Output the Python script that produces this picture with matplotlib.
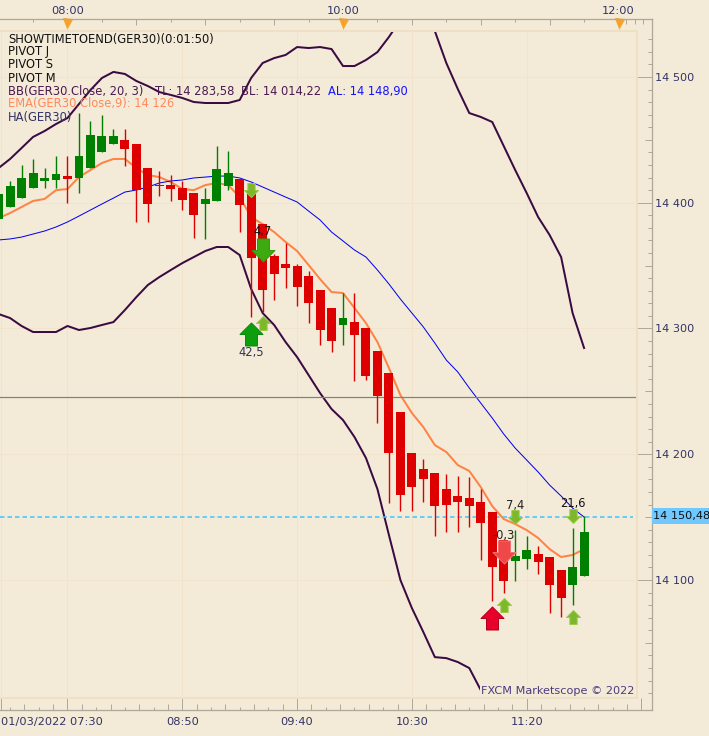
import matplotlib
matplotlib.use("Agg")
import matplotlib.pyplot as plt
import numpy as np
from matplotlib.path import Path

W, H = 709, 736
BG = "#F3EAD7"; GRID = "#F1E3CC"; BORDER = "#EFDFC4"; RULER = "#B0A898"; INK = "#333366"
GREEN = "#008000"; RED = "#DE0000"; PLUM = "#3A0A42"

# Candles, index 0 is the 08:00 bar, one bar is five minutes
first_bar = -6
opens = [14387,14397,14404,14412,14417,14418,14421,14420,14428,14440,14447,14450,14447,14428,14414,14414,14412,14408,14399,14401,14413,14419,14409,14383,14358,14351,14350,14342,14331,14316,14303,14305,14300,14282,14265,14234,14201,14188,14185,14172,14167,14165,14162,14154,14132,14115,14117,14121,14118,14108,14096,14103]
highs = [14407,14417,14430,14435,14428,14437,14437,14471,14465,14470,14459,14459,14447,14428,14425,14422,14417,14408,14412,14445,14441,14419,14409,14383,14359,14368,14351,14346,14331,14316,14328,14328,14300,14282,14265,14234,14201,14196,14185,14184,14183,14182,14172,14154,14133,14140,14135,14127,14118,14108,14141,14151]
lows = [14386,14397,14404,14412,14412,14412,14400,14408,14428,14440,14447,14429,14385,14385,14405,14401,14394,14372,14371,14401,14410,14377,14309,14313,14323,14332,14318,14304,14287,14281,14287,14258,14259,14225,14161,14155,14155,14162,14135,14138,14138,14142,14116,14083,14090,14099,14109,14105,14074,14071,14080,14103]
closes = [14407,14413,14420,14424,14420,14423,14419,14437,14454,14453,14453,14443,14410,14399,14413,14411,14402,14390,14403,14427,14424,14398,14356,14331,14343,14348,14333,14320,14299,14290,14308,14295,14262,14246,14201,14168,14174,14180,14159,14160,14162,14159,14145,14110,14099,14119,14124,14114,14096,14086,14110,14138]

ema_values = [14387.8,14391.8,14396.6,14401.4,14403,14410,14410.9,14420.4,14426,14431.6,14434.8,14434.8,14427.6,14422,14420.4,14416.5,14410.9,14410,14414,14415.7,14414,14404.5,14388.6,14383,14376.7,14368.8,14361.6,14350.5,14339.3,14329,14328.2,14316.3,14304.3,14289.2,14268.6,14247.1,14232.8,14221.6,14207.3,14201.8,14191.4,14186.7,14173.9,14158.8,14148.5,14144.5,14139.7,14133.4,14124.6,14118.3,14119.9,14124.6]
bb_mid = [14370.4,14371.2,14372.7,14375.1,14377.5,14380.7,14384.7,14389.4,14394.2,14399,14403.7,14408.5,14410.1,14412.5,14415.7,14417.3,14418.1,14419.7,14420.4,14421.2,14421.2,14419.7,14416.5,14412.5,14408.5,14404.5,14400.6,14393.4,14386.3,14376.7,14369.6,14362.4,14356.8,14346.5,14335.4,14323.4,14312.3,14301.2,14288.4,14274.9,14265.4,14252.7,14240.7,14228.8,14216.1,14204.9,14195.4,14185.9,14175.5,14166.8,14157.2,14150.1]
bb_top = [14427.6,14434.8,14443.5,14452.3,14457,14462.6,14467.4,14478.5,14489.6,14499.2,14504,14502.4,14496.8,14492.8,14488,14485.7,14483.3,14480.1,14479.3,14479.3,14479.3,14481.7,14499.2,14511.1,14515,14517.5,14523.8,14523,14523.8,14522.2,14508.7,14508.7,14513.5,14519.8,14531.8,14545.3,14553.2,14546.9,14536.5,14511.1,14490.4,14471.3,14468.2,14464.2,14445.1,14426,14407.7,14388.6,14374.3,14356.8,14312.3,14284.5]
bb_low = [14311.5,14308.3,14302,14297.2,14297.2,14297.2,14302,14298.8,14300.4,14302.8,14305.1,14314.7,14325,14334.6,14340.9,14346.5,14352,14356.8,14361.6,14364.8,14364.8,14358.4,14331.4,14312.3,14302.8,14289.2,14277.3,14263,14248.7,14236,14227.2,14213.7,14197,14172.3,14135.8,14100,14077.7,14058.6,14038.7,14037.9,14034.8,14030,14012.5,13991.8]

pivot_level = 14245.3
last_price = 14150.48

# Signals: bar, price, direction, size, fill, edge
sig_bars = [16,17,16,17,39,44,37,38,38,44]
sig_prices = [14410.1,14362.8,14295.6,14304.3,14150.1,14150.9,14069.8,14122.2,14080.1,14070.6]
sig_dirs = ["down","down","up","up","down","down","up","down","up","up"]
sig_sizes = [14,23,23,14,14,14,23,23,14,14]
sig_fills = ["#7DB82C","#3DAA10","#0C9E0C","#7DB82C","#7DB82C","#7DB82C","#E8002A","#F04848","#7DB82C","#7DB82C"]
sig_edges = ["#9CCB4A","#2E9C0C","#0A8A0A","#9CCB4A","#9CCB4A","#9CCB4A","#B0001E","#F47070","#9CCB4A","#9CCB4A"]

note_bars = [17,16,39,44,38]
note_prices = [14377.5,14281.3,14159.6,14161.2,14135.8]
note_texts = ["4,7","42,5","7,4","21,6","-0,3"]
note_colors = ["#111111","#333355","#222222","#111111","#222222"]

y_ticks = [14100,14200,14300,14400,14500]
y_labels = ["14 100","14 200","14 300","14 400","14 500"]
x_ticks = [-5.82,0,10,20,30,40]
x_labels = ["01/03/2022 07:30","","08:50","09:40","10:30","11:20"]
top_ticks = [0,24,48]
top_labels = ["08:00","10:00","12:00"]

fig = plt.figure(figsize=(W/72, H/72), dpi=72, facecolor=BG)
plt.rcParams["font.family"] = "DejaVu Sans"
L, R, T, B = 0, 637, 31, 698
ax = fig.add_axes([L/W, 1-B/H, (R-L)/W, (B-T)/H], facecolor=BG)
ax.set_xlim(-5.88, 49.61)
ax.set_ylim(14006.2, 14536.55)

bars = np.arange(first_bar, first_bar+len(opens))
o, h, l, c = map(np.array, (opens, highs, lows, closes))
colors = [GREEN if cc >= oo else RED for oo, cc in zip(o, c)]

ax.set_axisbelow(True)
ax.grid(True, color=GRID, lw=1)

ax.plot(bars, ema_values, color="#FF8345", lw=2, zorder=2, solid_joinstyle="round")
ax.plot(bars, bb_mid, color="#0000F0", lw=1, zorder=2)
ax.plot(bars, bb_top, color=PLUM, lw=2, zorder=2)
ax.plot(bars[:len(bb_low)], bb_low, color=PLUM, lw=2, zorder=2)
ax.axhline(pivot_level, color="#85817A", lw=1.2, zorder=2)
ax.axhline(last_price, xmax=0.993, color="#3CC4FF", lw=1.5, ls=(0, (3, 2)), zorder=2)

ax.vlines(bars, l, h, colors=colors, lw=1.4, zorder=3)
ax.bar(bars, np.abs(c-o), bottom=np.minimum(o, c), width=0.78, color=colors, lw=0, zorder=3.1)

up = Path([(0,.5),(.5,0),(.26,0),(.26,-.5),(-.26,-.5),(-.26,0),(-.5,0),(0,.5)], closed=True)
down = Path([(0,-.5),(.5,0),(.26,0),(.26,.5),(-.26,.5),(-.26,0),(-.5,0),(0,-.5)], closed=True)
for b, p, d, s, f, e in zip(sig_bars, sig_prices, sig_dirs, sig_sizes, sig_fills, sig_edges):
    ax.plot([b], [p], marker=up if d == "up" else down, ms=s, mfc=f, mec=e, mew=1, ls="none", zorder=4)
for b, p, t, col in zip(note_bars, note_prices, note_texts, note_colors):
    ax.text(b, p, t, ha="center", va="center", fontsize=11.5, color=col, zorder=6)

# frame and axes
for s in ax.spines.values():
    s.set_color(BORDER); s.set_linewidth(2)
ax.spines["left"].set_visible(False)
ax.yaxis.tick_right()
ax.set_yticks(y_ticks, y_labels)
ax.tick_params(axis="y", direction="out", length=14.7, width=1, color=RULER, labelcolor=INK, labelsize=11.3, pad=3)
ax.set_xticks(x_ticks, x_labels)
ax.tick_params(axis="x", direction="out", length=12, width=1, color=RULER, labelcolor=INK, labelsize=11.4, pad=7)
ax.get_xticklabels()[0].set_ha("left")

xt = ax.get_xaxis_transform(); yt = ax.get_yaxis_transform()
span = B - T
# rulers
ax.plot([0, 651.7/R], [-12/span, -12/span], transform=ax.transAxes, color=RULER, lw=1.3, clip_on=False)
ax.plot([651.7/R, 651.7/R], [-12/span, 1+12/span], transform=ax.transAxes, color=RULER, lw=1.3, clip_on=False)
# bottom ruler marks, eight to a ten-bar step
step = np.arange(-5, 41)*1.25
short_marks = step[(np.arange(len(step)) % 2) == 1]
long_marks = step[(np.arange(len(step)) % 2) == 0]
long_marks = long_marks[(long_marks % 10) != 0]
ax.vlines(short_marks, -12/span, -8.5/span, transform=xt, color=RULER, lw=1, clip_on=False)
ax.vlines(long_marks, -12/span, -6/span, transform=xt, color=RULER, lw=1, clip_on=False)
ax.vlines([50], -12/span, 0, transform=xt, color=RULER, lw=1, clip_on=False)
# right ruler minor marks
minor_prices = np.arange(14010, 14540, 10)
minor_prices = minor_prices[(minor_prices % 100) != 0]
tx = 651.7/R
ax.hlines(minor_prices, tx-4/R, tx, transform=yt, color=RULER, lw=1, clip_on=False)
ax.hlines(np.array([14050,14150,14250,14350,14450]), tx-7/R, tx, transform=yt, color=RULER, lw=1, clip_on=False)

# top ruler
top = ax.twiny()
top.set_xlim(ax.get_xlim())
top.patch.set_visible(False)
for n, s in top.spines.items():
    s.set_visible(n == "top")
top.spines["top"].set_position(("outward", 12))
top.spines["top"].set_color(RULER); top.spines["top"].set_linewidth(1.3)
top.spines["top"].set_bounds(-5.88, 50.9)
top.set_xticks(top_ticks, top_labels)
top.tick_params(axis="x", direction="in", length=6, width=1, color=RULER, labelcolor=INK, labelsize=11.4, pad=3)
top_short = np.arange(-6, 48, 3)
ax.vlines(top_short[top_short % 6 != 0], 1+9/span, 1+12/span, transform=xt, color=RULER, lw=1, clip_on=False)
top_long = np.arange(-6, 48, 6)
ax.vlines(top_long[top_long % 24 != 0], 1+6/span, 1+12/span, transform=xt, color=RULER, lw=1, clip_on=False)
ax.vlines([48.66, 49.4, 50.1], 1+7/span, 1+12/span, transform=xt, color=RULER, lw=1, clip_on=False)
ax.vlines(top_ticks, 1, 1+5/span, transform=xt, color="#D8CDB8", lw=1, clip_on=False)
ax.plot(top_ticks, [1+8/span]*3, transform=xt, marker="v", ms=9, color="#F9A328", ls="none", clip_on=False, zorder=7)

def put(x, y, s, color, size=11.5, **kw):
    return fig.text(x/W, 1-y/H, s, color=color, fontsize=size, va="center", zorder=10, **kw)

put(8, 39, "SHOWTIMETOEND(GER30)(0:01:50)", "#111111")
put(8, 52, "PIVOT J", "#111111")
put(8, 65, "PIVOT S", "#111111")
put(8, 78, "PIVOT M", "#111111")
put(8, 91, "BB(GER30.Close, 20, 3)", "#4A1A50")
put(155, 91, "TL: 14 283,58", "#4A1A50")
put(241, 91, "BL: 14 014,22", "#4A1A50")
put(328, 91, "AL: 14 148,90", "#1414FF")
put(8, 104, "EMA(GER30.Close,9): 14 126", "#FF8A5C")
put(8, 117, "HA(GER30)", INK)
put(481, 691, "FXCM Marketscope © 2022", "#4B3A80", size=11.3, bbox=dict(facecolor=BG, edgecolor="none", pad=1.2))
put(653, 516, "14 150,48", "#111111", size=11.2)
fig.patches.append(plt.Rectangle((652/W, 1-524/H), 57/W, 16/H, transform=fig.transFigure, facecolor="#6FC8FF", edgecolor="none", zorder=9))

fig.savefig("out.png", dpi=72, facecolor=BG)
